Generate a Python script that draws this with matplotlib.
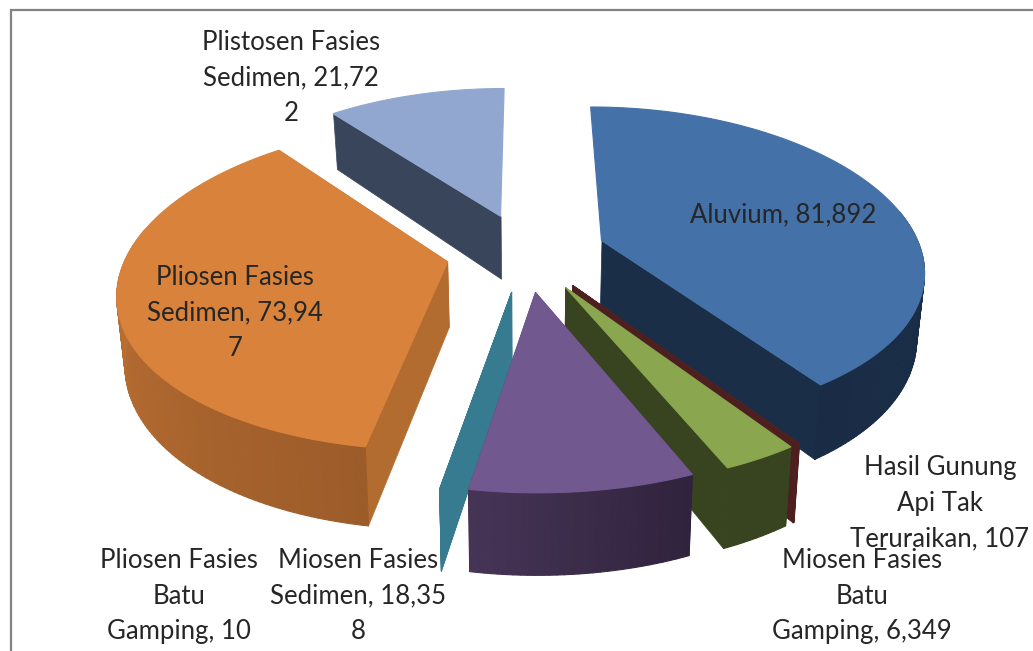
import numpy as np
import matplotlib
matplotlib.use('Agg')
from matplotlib import pyplot as plt
from matplotlib.collections import PolyCollection
from matplotlib.colors import to_rgb

plt.rcParams['font.family'] = ['Lato', 'DejaVu Sans']

# chart data, in the order the slices run clockwise from the top
categories = ['Aluvium', 'Hasil Gunung Api Tak Teruraikan', 'Miosen Fasies Batu Gamping',
              'Miosen Fasies Sedimen', 'Pliosen Fasies Batu Gamping',
              'Pliosen Fasies Sedimen', 'Plistosen Fasies Sedimen']
values = [81892, 107, 6349, 18358, 10, 73947, 21722]
labels = ['Aluvium, 81,892', 'Hasil Gunung\nApi Tak\nTeruraikan, 107', 'Miosen Fasies\nBatu\nGamping, 6,349',
          'Miosen Fasies\nSedimen, 18,35\n8', 'Pliosen Fasies\nBatu\nGamping, 10',
          'Pliosen Fasies\nSedimen, 73,94\n7', 'Plistosen Fasies\nSedimen, 21,72\n2']

# style per slice
top_colors = ['#4471a7', '#4f2120', '#8aa64f', '#71588f', '#367b90', '#d9823b', '#92a7cf']
face_colors = ['#1b2e47', '#4d1f1f', '#38431f', '#3a2b4b', '#367b90', '#b36c30', '#39455a']
wall_start = ['#1b3150', '#4d1f1f', '#38431f', '#30233d', '#367b90', '#9c5c2a', '#39455a']
wall_end = ['#1a2c45', '#4d1f1f', '#38431f', '#463456', '#367b90', '#d07c38', '#39455a']
label_pos = [(783, 215), (940, 503), (862, 596), (358, 596), (179, 596), (235, 313), (291, 78)]
draw_order = [6, 0, 5, 1, 2, 4, 3]

CX, CY = 526, 252
R = 320
EXPLODE = 80
SQUASH = 0.49
PERSP_X = 0.17
PERSP_Y = 0.15
DEPTH = 65
BOTTOM_X = 0.98


def project(x, y, bottom=False):
    sx = 1 / (1 + PERSP_X * y / R)
    sy = 1 / (1 + PERSP_Y * y / R)
    px = x * sx
    py = CY - y * SQUASH * sy
    if bottom:
        return CX + px * BOTTOM_X, py + DEPTH * sx
    return CX + px, py


def draw_slice(ax, a0, a1, i):
    mid = (a0 + a1) / 2
    ox = EXPLODE * np.sin(mid)
    oy = EXPLODE * np.cos(mid)
    th = np.linspace(a0, a1, max(3, int(np.degrees(a1 - a0))))
    xs = ox + R * np.sin(th)
    ys = oy + R * np.cos(th)
    tx, ty = project(xs, ys)
    bx, by = project(xs, ys, True)
    ax0, ay0 = project(ox, oy)
    bx0, by0 = project(ox, oy, True)

    # radial faces, leaving out the ones pointing straight to the back
    faces = []
    for k in (0, -1):
        if abs(np.sin(th[k])) < 0.1 and np.cos(th[k]) > 0:
            continue
        faces.append([(ax0, ay0), (tx[k], ty[k]), (bx[k], by[k]), (bx0, by0)])
    ax.add_collection(PolyCollection(faces, facecolors=face_colors[i], edgecolors=face_colors[i], linewidths=0.5))

    # outer wall as strips, shaded along the arc, only the part facing the viewer
    strips = []
    cols = []
    c0 = np.array(to_rgb(wall_start[i]))
    c1 = np.array(to_rgb(wall_end[i]))
    for k in range(len(th) - 1):
        if np.cos(th[k]) > 0.2:
            continue
        strips.append([(tx[k], ty[k]), (tx[k + 1], ty[k + 1]), (bx[k + 1], by[k + 1]), (bx[k], by[k])])
        cols.append(c0 + (c1 - c0) * k / max(1, len(th) - 2))
    if strips:
        ax.add_collection(PolyCollection(strips, facecolors=cols, edgecolors=cols, linewidths=0.8))

    # top
    ax.fill(np.r_[ax0, tx], np.r_[ay0, ty], color=top_colors[i], lw=0.8)


fig = plt.figure(figsize=(10.33, 6.51), dpi=100)
ax = fig.add_axes([0, 0, 1, 1])
ax.set_xlim(0, 1033)
ax.set_ylim(651, 0)
ax.axis('off')

ax.plot([11, 11, 1033], [651, 9.5, 9.5], color='#828282', lw=1.6, solid_joinstyle='miter')

angles = np.r_[0, np.cumsum(values)] / np.sum(values) * 2 * np.pi
for i in draw_order:
    draw_slice(ax, angles[i], angles[i + 1], i)

for text, (x, y) in zip(labels, label_pos):
    ax.text(x, y, text, ha='center', va='center', fontsize=18.5, color='#262626', linespacing=1.53)

fig.savefig('out.png', dpi=100)
